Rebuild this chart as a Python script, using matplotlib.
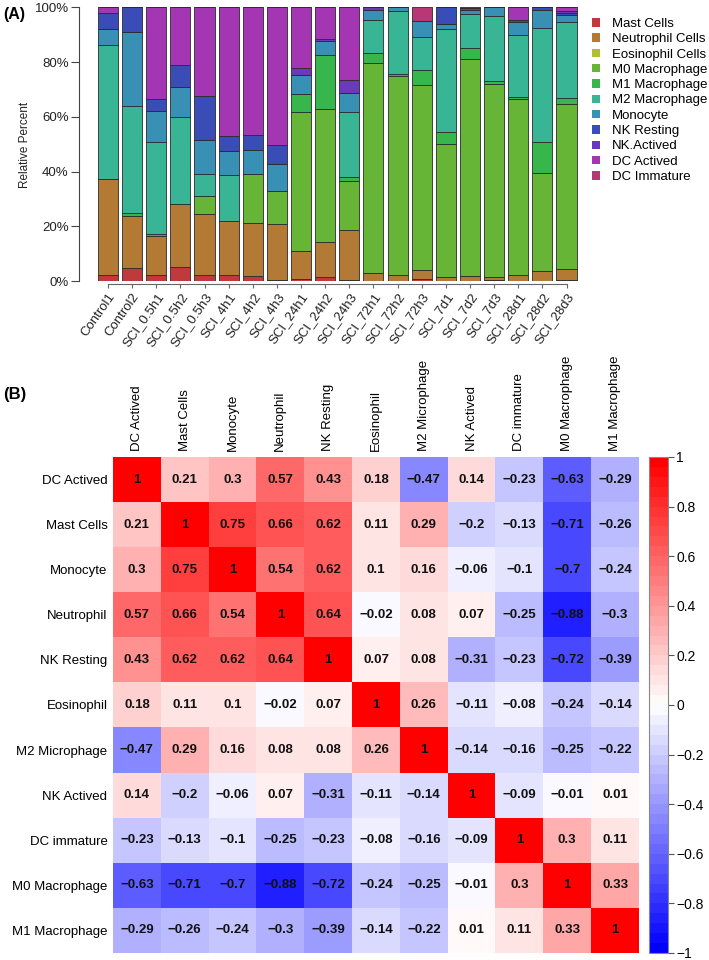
import numpy as np
import matplotlib
matplotlib.use('Agg')
import matplotlib.pyplot as plt
from matplotlib.colors import LinearSegmentedColormap
from matplotlib.patches import Patch

plt.rcParams['font.family'] = ['Liberation Sans', 'DejaVu Sans']

# ---- panel A data (relative percent per sample) ----
samples = ['Control1', 'Control2', 'SCI_0.5h1', 'SCI_0.5h2', 'SCI_0.5h3',
           'SCI_4h1', 'SCI_4h2', 'SCI_4h3', 'SCI_24h1', 'SCI_24h2', 'SCI_24h3',
           'SCI_72h1', 'SCI_72h2', 'SCI_72h3', 'SCI_7d1', 'SCI_7d2', 'SCI_7d3',
           'SCI_28d1', 'SCI_28d2', 'SCI_28d3']

cell_types = ['Mast Cells', 'Neutrophil Cells', 'Eosinophil Cells', 'M0 Macrophage',
              'M1 Macrophage', 'M2 Macrophage', 'Monocyte', 'NK Resting',
              'NK.Actived', 'DC Actived', 'DC Immature']

mast = [2.3, 4.8, 2.2, 5.0, 2.1, 2.1, 1.7, 0.3, 0.6, 1.5, 0.4,
        0, 0, 0.6, 0, 0, 0.4, 0, 0, 0.3]
neutrophil = [35.1, 19.0, 14.4, 23.2, 22.3, 20.0, 19.4, 20.4, 10.3, 12.6, 18.4,
              2.8, 2.2, 3.4, 1.6, 1.7, 1.2, 2.3, 3.5, 4.2]
eosinophil = [0] * 20
m0 = [0, 0, 0, 0, 6.7, 0, 18.0, 12.2, 50.7, 48.8, 17.7,
      76.8, 72.6, 67.6, 48.4, 79.4, 70.2, 64.3, 35.9, 60.2]
m1 = [0, 1.0, 0.4, 0, 0, 0, 0, 0, 6.8, 19.8, 1.4,
      3.7, 0.7, 5.4, 4.5, 4.0, 1.2, 0.5, 11.5, 2.3]
m2 = [48.7, 39.3, 33.7, 31.9, 8.0, 16.6, 0, 0, 0, 0, 23.8,
      11.9, 23.2, 12.1, 37.6, 12.3, 24.0, 22.7, 41.5, 27.7]
monocyte = [5.9, 26.9, 11.3, 10.8, 12.4, 8.9, 8.8, 9.8, 6.8, 5.1, 7.0,
            3.8, 1.3, 5.9, 1.8, 1.7, 3.0, 5.0, 6.7, 2.6]
nk_resting = [6.0, 9.0, 4.5, 8.1, 16.2, 5.3, 5.6, 6.9, 0, 0, 0,
              0, 0, 0, 6.1, 0.5, 0, 0.7, 0.9, 0.8]
nk_actived = [0, 0, 0, 0, 0, 0, 0, 0, 2.6, 0.7, 4.7,
              1.0, 0, 0, 0, 0, 0, 0, 0, 0.6]
dc_actived = [2.0, 0, 33.5, 21.0, 32.3, 47.1, 46.5, 50.4, 22.2, 11.5, 26.6,
              0, 0, 0, 0, 0, 0, 4.5, 0, 1.3]
dc_immature = [0, 0, 0, 0, 0, 0, 0, 0, 0, 0, 0,
               0, 0, 5.0, 0, 0.4, 0, 0, 0, 0]

series = [mast, neutrophil, eosinophil, m0, m1, m2, monocyte,
          nk_resting, nk_actived, dc_actived, dc_immature]
colors = ['#c0393b', '#b37a35', '#b0bd35', '#66b536', '#37b64b', '#38b594',
          '#3891b5', '#3a4cb5', '#6a3ab8', '#a436b3', '#b83876']

# ---- panel B data (correlation matrix) ----
corr_labels = ['DC Actived', 'Mast Cells', 'Monocyte', 'Neutrophil', 'NK Resting',
               'Eosinophil', 'M2 Microphage', 'NK Actived', 'DC immature',
               'M0 Macrophage', 'M1 Macrophage']
corr = np.array([
    [1, 0.21, 0.3, 0.57, 0.43, 0.18, -0.47, 0.14, -0.23, -0.63, -0.29],
    [0.21, 1, 0.75, 0.66, 0.62, 0.11, 0.29, -0.2, -0.13, -0.71, -0.26],
    [0.3, 0.75, 1, 0.54, 0.62, 0.1, 0.16, -0.06, -0.1, -0.7, -0.24],
    [0.57, 0.66, 0.54, 1, 0.64, -0.02, 0.08, 0.07, -0.25, -0.88, -0.3],
    [0.43, 0.62, 0.62, 0.64, 1, 0.07, 0.08, -0.31, -0.23, -0.72, -0.39],
    [0.18, 0.11, 0.1, -0.02, 0.07, 1, 0.26, -0.11, -0.08, -0.24, -0.14],
    [-0.47, 0.29, 0.16, 0.08, 0.08, 0.26, 1, -0.14, -0.16, -0.25, -0.22],
    [0.14, -0.2, -0.06, 0.07, -0.31, -0.11, -0.14, 1, -0.09, -0.01, 0.01],
    [-0.23, -0.13, -0.1, -0.25, -0.23, -0.08, -0.16, -0.09, 1, 0.3, 0.11],
    [-0.63, -0.71, -0.7, -0.88, -0.72, -0.24, -0.25, -0.01, 0.3, 1, 0.33],
    [-0.29, -0.26, -0.24, -0.3, -0.39, -0.14, -0.22, 0.01, 0.11, 0.33, 1],
])
cbar_ticks = [-1, -0.8, -0.6, -0.4, -0.2, 0, 0.2, 0.4, 0.6, 0.8, 1]

W, H = 709, 960
fig = plt.figure(figsize=(W / 100, H / 100), dpi=100)

# ================= (A) stacked bars =================
ax1 = fig.add_axes([79 / W, 1 - 281 / H, 502 / W, 273.7 / H])
x = np.arange(len(samples))
bottom = np.zeros(len(samples))
for vals, col, name in zip(series, colors, cell_types):
    vals = np.array(vals, dtype=float)
    ax1.bar(x, vals, bottom=bottom, width=0.833, color=col,
            edgecolor='#2b2b2b', linewidth=0.6, label=name)
    bottom += vals

ax1.set_xlim(-1.2, 19.6)
ax1.set_ylim(0, 100)
for s in ['top', 'right']:
    ax1.spines[s].set_visible(False)
ax1.spines['left'].set_bounds(0, 100)
ax1.spines['left'].set_color('#444444')
ax1.spines['bottom'].set_bounds(0, 19)
ax1.spines['bottom'].set_position(('outward', 2))
ax1.spines['bottom'].set_color('#666666')
ax1.set_yticks(np.arange(0, 101, 20))
ax1.set_yticklabels(['%d%%' % v for v in range(0, 101, 20)], fontsize=9.5, color='#222222')
ax1.tick_params(axis='y', length=5.5, color='#444444', pad=2)
ax1.set_xticks(x)
ax1.set_xticklabels(samples, rotation=55, ha='right', rotation_mode='anchor',
                    fontsize=9.5, color='#222222')
ax1.tick_params(axis='x', length=3, color='#666666', pad=2)
fig.text(25 / W, 1 - 145 / H, 'Relative Percent', rotation=90, fontsize=8.5,
         ha='center', va='center', color='#222222')
fig.text(3 / W, 1 - 14 / H, '(A)', fontsize=11.5, fontweight='bold', va='center')

handles = [Patch(facecolor=c, edgecolor='none') for c in colors]
fig.legend(handles, cell_types, loc='upper left', bbox_to_anchor=(592 / W, 1 - 18 / H),
           frameon=False, fontsize=9.5, handlelength=0.6, handleheight=0.6,
           labelspacing=0.25, handletextpad=0.9, borderpad=0, borderaxespad=0)

# ================= (B) correlation heatmap =================
cmap = LinearSegmentedColormap.from_list('bwr2', ['#0000ff', '#ffffff', '#ff0000'], N=50)
ax2 = fig.add_axes([113 / W, 1 - 953 / H, 526 / W, 496 / H])
im = ax2.imshow(corr, cmap=cmap, vmin=-1, vmax=1, aspect='auto', interpolation='nearest')
n = len(corr_labels)
ax2.set_xticks(range(n))
ax2.set_xticklabels(corr_labels, rotation=90, fontsize=9.5)
ax2.xaxis.tick_top()
ax2.set_yticks(range(n))
ax2.set_yticklabels(corr_labels, fontsize=9.5)
ax2.tick_params(length=0, pad=4)
for s in ax2.spines.values():
    s.set_visible(False)
for i in range(n):
    for j in range(n):
        txt = '%g' % corr[i, j]
        ax2.text(j, i, txt.replace('-', '\u2212'), ha='center', va='center',
                 fontsize=9.5, fontweight='bold', color='#111111')
fig.text(3 / W, 1 - 395 / H, '(B)', fontsize=12, fontweight='bold', va='center')

cax = fig.add_axes([649 / W, 1 - 953 / H, 19 / W, 496 / H])
cb = fig.colorbar(im, cax=cax, ticks=cbar_ticks)
cb.ax.set_yticklabels([('%g' % t).replace('-', '\u2212') for t in cbar_ticks])
cb.ax.tick_params(labelsize=10, length=4, color='#555555', pad=2)
cb.outline.set_edgecolor('#888888')
cb.outline.set_linewidth(0.8)

fig.savefig('out.png', dpi=100)
